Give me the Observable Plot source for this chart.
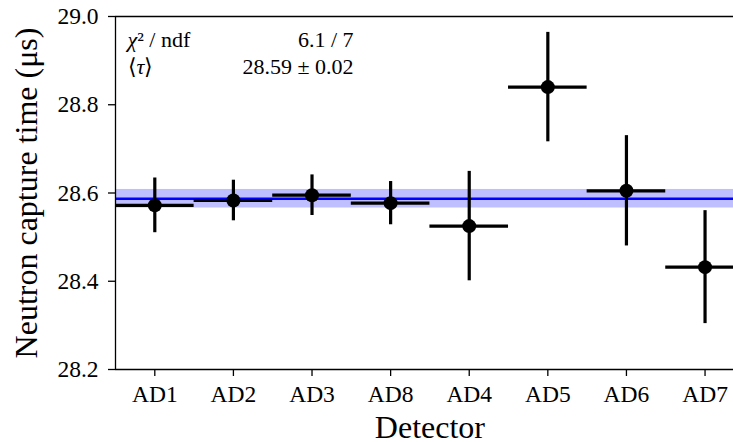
<!DOCTYPE html>
<html>
<head>
<meta charset="utf-8">
<script src="https://cdn.jsdelivr.net/npm/d3@7"></script>
<script src="https://cdn.jsdelivr.net/npm/@observablehq/plot@0.6"></script>
<style>
  html, body { margin: 0; padding: 0; background: #fff; }
  #chart svg { display: block; }
</style>
</head>
<body>
<div id="chart"></div>
<script>
// ---- data ----
const detectors = ["AD1", "AD2", "AD3", "AD8", "AD4", "AD5", "AD6", "AD7"];
const captureTime = [28.572, 28.583, 28.595, 28.577, 28.525, 28.840, 28.605, 28.432];
const captureErr = [0.062, 0.046, 0.046, 0.049, 0.124, 0.124, 0.125, 0.128];
const meanTau = 28.587;
const meanErr = 0.021;
const yTicks = [28.2, 28.4, 28.6, 28.8, 29.0];
const statLabels = ["χ² / ndf", "⟨τ⟩"];
const statValues = ["6.1 / 7", "28.59 ± 0.02"];
const xTitle = "Detector";
const yTitle = "Neutron capture time (μs)";

const rows = detectors.map((d, i) => ({
  i, name: d, v: captureTime[i], e: captureErr[i]
}));

const serif = "'Liberation Serif', 'Times New Roman', serif";

const chart = Plot.plot({
  width: 733,
  height: 442,
  marginLeft: 115,
  marginRight: 0,
  marginTop: 16,
  marginBottom: 73,
  style: { fontFamily: serif, color: "#000", background: "#fff", overflow: "visible" },
  x: { type: "linear", domain: [-0.5, 7.362] },
  y: { domain: [28.2, 29.0] },
  marks: [
    // mean band + line
    Plot.rect([{}], { y1: () => meanTau - meanErr, y2: () => meanTau + meanErr, fill: "rgb(191,191,255)" }),
    Plot.ruleY([meanTau], { stroke: "#0000ff", strokeWidth: 2.7 }),
    // error bars
    Plot.ruleY(rows, { y: "v", x1: d => d.i - 0.5, x2: d => d.i + 0.5, stroke: "#000", strokeWidth: 3.2 }),
    Plot.ruleX(rows, { x: "i", y1: d => d.v - d.e, y2: d => d.v + d.e, stroke: "#000", strokeWidth: 3.2 }),
    Plot.dot(rows, { x: "i", y: "v", r: 7, fill: "#000", stroke: "none" }),
    // spines
    Plot.ruleX([-0.5], { stroke: "#000", strokeWidth: 1.3 }),
    Plot.ruleY([28.2], { stroke: "#000", strokeWidth: 1.3 }),
    Plot.ruleY([29.0], { stroke: "#000", strokeWidth: 1.3 }),
    // axes
    Plot.axisY({
      ticks: yTicks, tickFormat: d => d.toFixed(1), tickSize: 7, tickPadding: 10,
      fontSize: 23.5, strokeWidth: 1.3, label: null
    }),
    Plot.axisX({
      ticks: d3.range(detectors.length), tickFormat: i => detectors[i], tickSize: 7, tickPadding: 9,
      fontSize: 23.5, strokeWidth: 1.3, label: null
    }),
    // axis titles
    Plot.text([xTitle], { x: () => 3.5, frameAnchor: "bottom", text: d => d, fontSize: 32, lineAnchor: "middle", dy: 58 }),
    Plot.text([yTitle], { frameAnchor: "left", text: d => d, fontSize: 32, lineAnchor: "middle", className: "ylab" }),
    // statistics box text
    Plot.text(statLabels, { frameAnchor: "top-left", text: d => d, fontSize: 22, textAnchor: "start", lineAnchor: "middle", className: "stat-label" }),
    Plot.text(statValues, { frameAnchor: "top-left", text: d => d, fontSize: 22, textAnchor: "end", lineAnchor: "middle", className: "stat-value" })
  ]
});

// rotate the y-axis title and place it left of the ticks
chart.querySelectorAll(".ylab text").forEach(t => {
  t.setAttribute("text-anchor", "middle");
  t.setAttribute("transform", `translate(26,${(16 + 369) / 2}) rotate(-90)`);
});

// place statistic rows (two lines) and italicize the Greek symbols
const lineOffsets = [23.5, 50.5];
chart.querySelectorAll(".stat-label text").forEach((t, i) => {
  t.setAttribute("transform", `translate(${115 + 12},${16 + lineOffsets[i]})`);
  if (i === 0) {
    t.innerHTML = '<tspan font-style="italic">χ</tspan><tspan>² / ndf</tspan>';
  } else {
    t.innerHTML = '<tspan>⟨</tspan><tspan font-style="italic">τ</tspan><tspan>⟩</tspan>';
  }
});
chart.querySelectorAll(".stat-value text").forEach((t, i) => {
  t.setAttribute("transform", `translate(353,${16 + lineOffsets[i]})`);
});

document.getElementById("chart").appendChild(chart);
</script>
</body>
</html>
